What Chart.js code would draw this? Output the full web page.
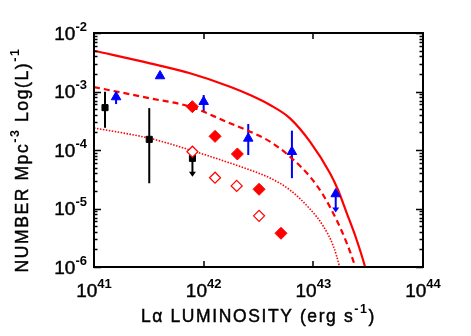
<!DOCTYPE html>
<html>
<head>
<meta charset="utf-8">
<script src="https://cdn.jsdelivr.net/npm/chart.js@4.4.1/dist/chart.umd.min.js"></script>
<style>
  html, body { margin: 0; padding: 0; background: #fff; }
  canvas { display: block; }
</style>
</head>
<body>
<canvas id="lf" width="471" height="336"></canvas>
<script>
  // axis decades and their exponent labels
  const xTicks = [1e41, 1e42, 1e43, 1e44];
  const xExps = ["41", "42", "43", "44"];
  const yTicks = [1e-6, 1e-5, 1e-4, 1e-3, 1e-2];
  const yExps = ["-6", "-5", "-4", "-3", "-2"];

  // model curves
  const solidL = [1.00e41, 3.24e41, 7.51e41, 1.74e42, 2.65e42, 4.03e42, 6.13e42, 9.32e42, 1.42e43, 1.68e43, 2.02e43, 2.45e43, 2.96e43, 3.09e43];
  const solidPhi = [4.98e-3, 3.03e-3, 2.05e-3, 1.21e-3, 8.71e-4, 5.88e-4, 3.48e-4, 1.39e-4, 4.00e-5, 2.07e-5, 8.28e-6, 3.13e-6, 1.01e-6, 7.3e-7];
  const dashL = [1.00e41, 3.24e41, 7.51e41, 1.74e42, 2.65e42, 4.03e42, 6.13e42, 9.32e42, 1.23e43, 1.63e43, 2.02e43, 2.40e43, 2.50e43];
  const dashPhi = [1.19e-3, 7.65e-4, 5.50e-4, 2.86e-4, 2.06e-4, 1.39e-4, 7.68e-5, 3.50e-5, 1.70e-5, 6.36e-6, 2.54e-6, 1.01e-6, 7.3e-7];
  const dotL = [1.00e41, 3.24e41, 7.51e41, 1.74e42, 2.65e42, 4.03e42, 6.13e42, 9.32e42, 1.23e43, 1.52e43, 1.73e43, 1.79e43];
  const dotPhi = [2.38e-4, 1.58e-4, 1.00e-4, 5.99e-5, 4.55e-5, 3.32e-5, 2.07e-5, 9.80e-6, 5.02e-6, 2.29e-6, 1.01e-6, 7.3e-7];

  // black squares with error bars
  const sqL = [1.26e41, 3.19e41];
  const sqPhi = [5.3e-4, 1.52e-4];
  const sqLo = [2.4e-4, 2.7e-5];
  const sqHi = [9.9e-4, 5.2e-4];
  // black square upper limit
  const limL = [7.9e41];
  const limPhi = [7.2e-5];
  const limTip = [3.5e-5];

  // blue triangles
  const triL = [1.59e41, 4.00e41, 1.00e42, 2.55e42, 6.38e42, 1.60e43];
  const triPhi = [8.05e-4, 1.84e-3, 6.7e-4, 1.58e-4, 9.35e-5, 1.77e-5];
  const triLo = [6.1e-4, null, 4.5e-4, 8.2e-5, 3.3e-5, 8.55e-6];
  const triHi = [9.8e-4, null, 8.7e-4, 2.78e-4, 2.14e-4, 1.77e-5];
  const triArrow = [false, false, false, false, false, true];

  // red diamonds
  const fillL = [7.88e41, 1.27e42, 2.03e42, 3.20e42, 5.07e42];
  const fillPhi = [5.5e-4, 1.71e-4, 8.55e-5, 2.13e-5, 3.77e-6];
  const openL = [7.9e41, 1.27e42, 2.00e42, 3.20e42];
  const openPhi = [9.35e-5, 3.36e-5, 2.43e-5, 7.5e-6];

  const RED = "#ff0000", BLUE = "#0000ff", INK = "#000000";
  const FONT = '"Liberation Sans", Arial, Helvetica, sans-serif';

  function pairs(xs, ys) {
    return xs.map(function(x, i) { return { x: x, y: ys[i] }; });
  }

  function runWidth(ctx, parts, big, small) {
    let w = 0;
    parts.forEach(function(p) {
      ctx.font = p.sup ? small : big;
      w += ctx.measureText(p.t).width;
    });
    return w;
  }

  // draws text with superscripts; a thin stroke thickens it like the original
  function drawRun(ctx, parts, x, base, big, small, rise) {
    ctx.textAlign = "left";
    ctx.textBaseline = "alphabetic";
    ctx.lineWidth = 0.45;
    ctx.strokeStyle = INK;
    parts.forEach(function(p) {
      ctx.font = p.sup ? small : big;
      const y = p.sup ? base - rise : base;
      ctx.fillText(p.t, x, y);
      if (!p.sup) ctx.strokeText(p.t, x, y);
      x += ctx.measureText(p.t).width;
    });
  }

  function arrowDown(ctx, x, yTip, color) {
    ctx.fillStyle = color;
    ctx.beginPath();
    ctx.moveTo(x, yTip);
    ctx.lineTo(x - 3.5, yTip - 5);
    ctx.lineTo(x + 3.5, yTip - 5);
    ctx.closePath();
    ctx.fill();
  }

  const framePlugin = {
    id: "frame",
    beforeDatasetsDraw: function(chart) {
      const ctx = chart.ctx, xs = chart.scales.x, ys = chart.scales.y;
      ctx.save();
      ctx.lineWidth = 2;
      // black error bars
      ctx.strokeStyle = INK;
      sqL.forEach(function(L, i) {
        const px = xs.getPixelForValue(L);
        ctx.beginPath();
        ctx.moveTo(px, ys.getPixelForValue(sqLo[i]));
        ctx.lineTo(px, ys.getPixelForValue(sqHi[i]));
        ctx.stroke();
      });
      limL.forEach(function(L, i) {
        const px = xs.getPixelForValue(L);
        const tip = ys.getPixelForValue(limTip[i]);
        ctx.beginPath();
        ctx.moveTo(px, ys.getPixelForValue(limPhi[i]));
        ctx.lineTo(px, tip - 3);
        ctx.stroke();
        arrowDown(ctx, px, tip, INK);
      });
      // blue error bars
      ctx.strokeStyle = BLUE;
      triL.forEach(function(L, i) {
        if (triLo[i] === null) return;
        const px = xs.getPixelForValue(L);
        const lo = ys.getPixelForValue(triLo[i]);
        ctx.beginPath();
        ctx.moveTo(px, triArrow[i] ? lo - 3 : lo);
        ctx.lineTo(px, ys.getPixelForValue(triHi[i]));
        ctx.stroke();
        if (triArrow[i]) arrowDown(ctx, px, lo, BLUE);
      });
      ctx.restore();
    },
    afterDraw: function(chart) {
      const ctx = chart.ctx, a = chart.chartArea;
      const xs = chart.scales.x, ys = chart.scales.y;
      ctx.save();
      ctx.strokeStyle = INK;
      ctx.lineWidth = 2;
      ctx.strokeRect(a.left, a.top, a.right - a.left, a.bottom - a.top);

      // x ticks, majors only, top and bottom
      ctx.lineWidth = 1.5;
      xTicks.forEach(function(v) {
        const px = Math.round(xs.getPixelForValue(v));
        ctx.beginPath();
        ctx.moveTo(px, a.bottom); ctx.lineTo(px, a.bottom - 6);
        ctx.moveTo(px, a.top); ctx.lineTo(px, a.top + 6);
        ctx.stroke();
      });
      // y ticks with minors, left and right
      yTicks.forEach(function(v, k) {
        for (let m = 1; m <= 9; m++) {
          if (m > 1 && k === yTicks.length - 1) break;
          const py = Math.round(ys.getPixelForValue(v * m)) + 0.5;
          const len = m === 1 ? 7 : 3.5;
          ctx.beginPath();
          ctx.moveTo(a.left, py); ctx.lineTo(a.left + len, py);
          ctx.moveTo(a.right, py); ctx.lineTo(a.right - len, py);
          ctx.stroke();
        }
      });

      ctx.fillStyle = INK;
      const big = "19px " + FONT, small = "bold 13px " + FONT;
      xTicks.forEach(function(v, i) {
        const parts = [{ t: "10" }, { t: xExps[i], sup: true }];
        const w = runWidth(ctx, parts, big, small);
        drawRun(ctx, parts, xs.getPixelForValue(v) - w / 2, 297, big, small, 9);
      });
      yTicks.forEach(function(v, i) {
        const parts = [{ t: "10" }, { t: yExps[i], sup: true }];
        const w = runWidth(ctx, parts, big, small);
        drawRun(ctx, parts, 87 - w, ys.getPixelForValue(v) + 6.5, big, small, 9);
      });

      // axis titles
      const tBig = "17.5px " + FONT, tSmall = "bold 12.5px " + FONT;
      ctx.letterSpacing = "1.6px";
      const xt = [{ t: "L\u03b1 LUMINOSITY (erg s" }, { t: "-1", sup: true }, { t: ")" }];
      const xw = runWidth(ctx, xt, tBig, tSmall);
      drawRun(ctx, xt, (a.left + a.right) / 2 - xw / 2, 322, tBig, tSmall, 9);

      const yt = [{ t: "NUMBER Mpc" }, { t: "-3", sup: true }, { t: " Log(L)" }, { t: "-1", sup: true }];
      const yw = runWidth(ctx, yt, tBig, tSmall);
      ctx.translate(28, 160);
      ctx.rotate(-Math.PI / 2);
      drawRun(ctx, yt, -yw / 2, 0, tBig, tSmall, 9);
      ctx.restore();
    }
  };

  new Chart(document.getElementById("lf"), {
    type: "scatter",
    data: {
      datasets: [
        { data: pairs(openL, openPhi), pointStyle: "rectRot", pointRadius: 5.5,
          backgroundColor: "#ffffff", borderColor: RED, borderWidth: 1.2 },
        { data: pairs(fillL, fillPhi), pointStyle: "rectRot", pointRadius: 6,
          backgroundColor: RED, borderColor: RED, borderWidth: 1 },
        { data: pairs(triL, triPhi), pointStyle: "triangle", pointRadius: 5.5,
          backgroundColor: BLUE, borderColor: BLUE, borderWidth: 1 },
        { data: pairs(sqL.concat(limL), sqPhi.concat(limPhi)), pointStyle: "rect", pointRadius: 4.3,
          backgroundColor: INK, borderColor: INK, borderWidth: 1 },
        { data: pairs(solidL, solidPhi), showLine: true, pointRadius: 0, borderColor: RED,
          borderWidth: 2.2, cubicInterpolationMode: "monotone" },
        { data: pairs(dashL, dashPhi), showLine: true, pointRadius: 0, borderColor: RED,
          borderWidth: 2.2, borderDash: [6, 4], cubicInterpolationMode: "monotone" },
        { data: pairs(dotL, dotPhi), showLine: true, pointRadius: 0, borderColor: RED,
          borderWidth: 1.6, borderDash: [1.5, 1.5], cubicInterpolationMode: "monotone" }
      ]
    },
    options: {
      responsive: false,
      devicePixelRatio: 1,
      animation: false,
      layout: { padding: { top: 33, right: 48, left: 0, bottom: 0 } },
      plugins: { legend: { display: false }, tooltip: { enabled: false } },
      scales: {
        x: {
          type: "logarithmic", min: 1e41, max: 1e44,
          ticks: { display: false }, grid: { display: false }, border: { display: false },
          afterFit: function(s) { s.height = 69; }
        },
        y: {
          type: "logarithmic", min: 1e-6, max: 1e-2,
          ticks: { display: false }, grid: { display: false }, border: { display: false },
          afterFit: function(s) { s.width = 94; }
        }
      }
    },
    plugins: [framePlugin]
  });
</script>
</body>
</html>
